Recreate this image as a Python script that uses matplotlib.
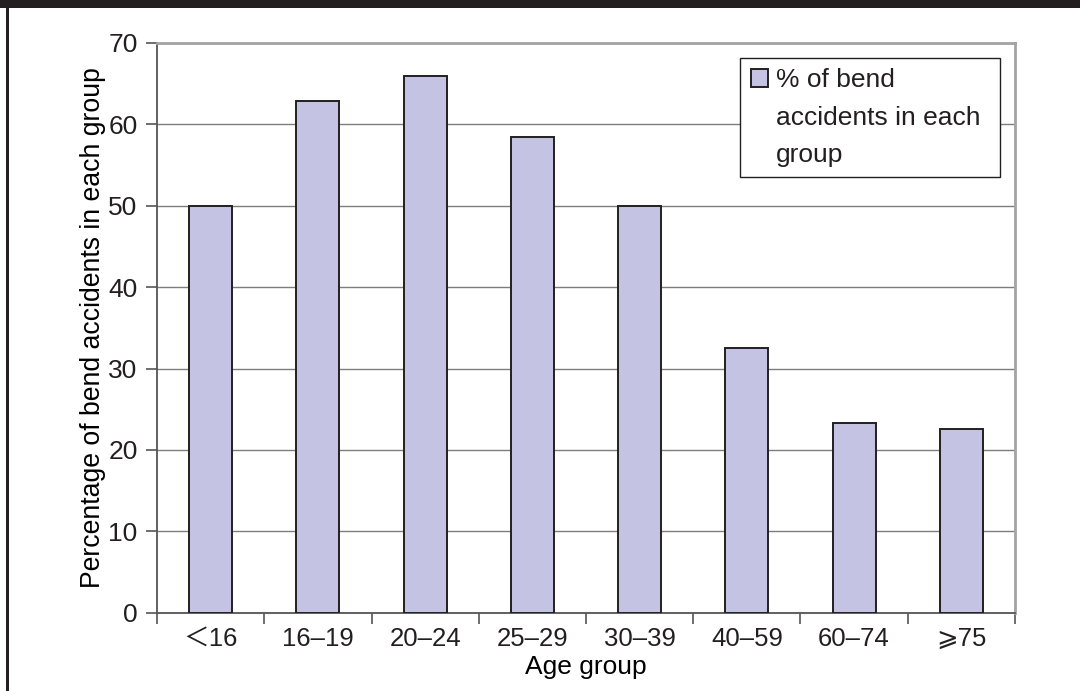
import matplotlib as mpl
mpl.use("Agg")
import matplotlib.pyplot as plt
from matplotlib.patches import Patch, Rectangle
import numpy as np

mpl.rcParams.update({
    "font.family": ["Liberation Sans", "DejaVu Sans", "Noto Sans CJK SC"],
    "font.size": 18.5,
    "text.color": "#231f20",
    "xtick.color": "#231f20",
    "ytick.color": "#231f20",
})

INK = "#231f20"
BAR = "#c5c3e3"

groups = ["＜16", "16–19", "20–24", "25–29", "30–39", "40–59", "60–74", "⩾75"]
pct_bend = [50.0, 62.9, 65.9, 58.4, 50.0, 32.5, 23.3, 22.6]
y_ticks = [0, 10, 20, 30, 40, 50, 60, 70]

fig = plt.figure(figsize=(10.8, 6.91), dpi=100)
ax = fig.add_axes([0.1454, 0.1133, 0.7944, 0.8245])

x = np.arange(len(groups))
ax.bar(x, pct_bend, width=0.40, color=BAR, edgecolor=INK, linewidth=1.4, zorder=3)

ax.set_ylim(0, 70)
ax.set_xlim(-0.5, len(groups) - 0.5)
ax.set_yticks(y_ticks)
ax.grid(axis="y", color="#7d7d7d", lw=1.0, zorder=0)

# major ticks on the category boundaries, labels on the centres
ax.set_xticks(np.arange(len(groups) + 1) - 0.5)
ax.set_xticklabels([])
ax.set_xticks(x, minor=True)
ax.set_xticklabels(groups, minor=True, fontsize=18.5)
ax.tick_params(axis="x", which="major", length=8, width=1.2, color="#555555", direction="out")
ax.tick_params(axis="x", which="minor", length=0, pad=10)
ax.tick_params(axis="y", length=8, width=1.2, color="#555555", direction="out", pad=6,
               labelsize=19)

for side in ("left", "bottom"):
    ax.spines[side].set_color("#555555")
    ax.spines[side].set_linewidth(1.3)
for side in ("top", "right"):
    ax.spines[side].set_color("#a3a3a3")
    ax.spines[side].set_linewidth(2.0)

ax.set_ylabel("Percentage of bend accidents in each group", fontsize=19.2, labelpad=1.5)
ax.set_xlabel("Age group", fontsize=19, labelpad=3)

handles = [
    Patch(facecolor=BAR, edgecolor=INK, linewidth=1.4),
    Patch(facecolor="none", edgecolor="none"),
    Patch(facecolor="none", edgecolor="none"),
]
labels = ["% of bend", "accidents in each", "group"]
leg = ax.legend(handles, labels, loc="upper left", bbox_to_anchor=(0.6795, 0.0, 0.303, 0.974),
                mode="expand", borderaxespad=0, fancybox=False, framealpha=1, edgecolor=INK,
                handlelength=0.65, handleheight=0.65, handletextpad=0.32,
                labelspacing=0.5, borderpad=0.4, fontsize=19)
leg.get_frame().set_linewidth(1.0)
leg.set_zorder(5)

# black page border at top and left
fig.add_artist(Rectangle((0, 683 / 691), 1, 8 / 691, transform=fig.transFigure,
                         facecolor=INK, edgecolor="none"))
fig.add_artist(Rectangle((6 / 1080, 0), 2.5 / 1080, 1, transform=fig.transFigure,
                         facecolor=INK, edgecolor="none"))

fig.savefig("out.png", dpi=100)
